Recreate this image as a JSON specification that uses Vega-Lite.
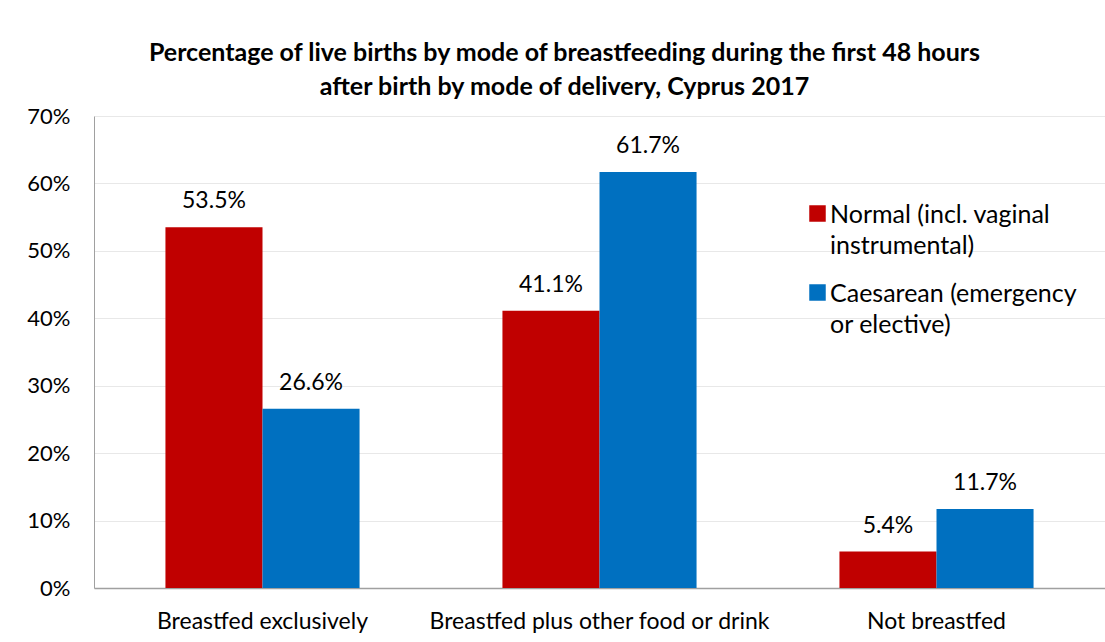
{
  "$schema": "https://vega.github.io/schema/vega-lite/v6.json",
  "width": 1011,
  "height": 472,
  "autosize": {"type": "none"},
  "padding": {"left": 94, "top": 116, "right": 0, "bottom": 54},
  "background": "white",
  "title": {
    "text": ["Percentage of live births by mode of breastfeeding during the first 48 hours", "after birth by mode of delivery, Cyprus 2017"],
    "font": "Lato",
    "fontSize": 25,
    "fontWeight": "bold",
    "color": "#000000",
    "anchor": "middle",
    "dx": -35,
    "offset": 5,
    "lineHeight": 34
  },
  "data": {
    "values": [
      {"category": "Breastfed exclusively", "mode": "Normal (incl. vaginal instrumental)", "value": 0.535},
      {"category": "Breastfed exclusively", "mode": "Caesarean (emergency or elective)", "value": 0.266},
      {"category": "Breastfed plus other food or drink", "mode": "Normal (incl. vaginal instrumental)", "value": 0.411},
      {"category": "Breastfed plus other food or drink", "mode": "Caesarean (emergency or elective)", "value": 0.617},
      {"category": "Not breastfed", "mode": "Normal (incl. vaginal instrumental)", "value": 0.054},
      {"category": "Not breastfed", "mode": "Caesarean (emergency or elective)", "value": 0.117}
    ]
  },
  "encoding": {
    "x": {
      "field": "category",
      "type": "nominal",
      "sort": ["Breastfed exclusively", "Breastfed plus other food or drink", "Not breastfed"],
      "scale": {"paddingInner": 0.424, "paddingOuter": 0.212},
      "axis": {
        "title": null,
        "labelAngle": 0,
        "labelFont": "Lato",
        "labelFontSize": 23,
        "labelColor": "#000000",
        "labelPadding": 22,
        "ticks": false,
        "domainColor": "#a0a0a0",
        "domainWidth": 1.5,
        "grid": false,
        "labelLimit": 400
      }
    },
    "xOffset": {
      "field": "mode",
      "type": "nominal",
      "sort": ["Normal (incl. vaginal instrumental)", "Caesarean (emergency or elective)"],
      "scale": {"paddingInner": 0, "paddingOuter": 0}
    },
    "y": {
      "field": "value",
      "type": "quantitative",
      "scale": {"domain": [0, 0.7]},
      "axis": {
        "title": null,
        "format": ".0%",
        "values": [0, 0.1, 0.2, 0.3, 0.4, 0.5, 0.6, 0.7],
        "labelFont": "Lato",
        "labelFontSize": 22,
        "labelColor": "#000000",
        "labelPadding": 24,
        "ticks": false,
        "domainColor": "#a0a0a0",
        "domainWidth": 1,
        "gridColor": "#e8e8e8",
        "gridWidth": 1
      }
    }
  },
  "layer": [
    {
      "mark": {"type": "bar"},
      "encoding": {
        "color": {
          "field": "mode",
          "type": "nominal",
          "sort": ["Normal (incl. vaginal instrumental)", "Caesarean (emergency or elective)"],
          "scale": {"domain": ["Normal (incl. vaginal instrumental)", "Caesarean (emergency or elective)"], "range": ["#C00000", "#0070C0"]},
          "legend": {
            "orient": "none",
            "legendX": 711,
            "legendY": 85,
            "title": null,
            "symbolType": "square",
            "symbolSize": 272,
            "symbolStrokeWidth": 0,
            "labelFont": "Lato",
            "labelFontSize": 25,
            "labelColor": "#000000",
            "labelLimit": 400,
            "labelOffset": 0,
            "rowPadding": 21,
            "labelExpr": "datum.label == 'Normal (incl. vaginal instrumental)' ? ['Normal (incl. vaginal', 'instrumental)'] : ['Caesarean (emergency', 'or elective)']",
            "labelBaseline": "alphabetic",
            "encode": {"labels": {"update": {"lineHeight": {"value": 31}, "dy": {"value": 9}}}}
          }
        }
      }
    },
    {
      "mark": {"type": "text", "baseline": "alphabetic", "dy": -19, "font": "Lato", "fontSize": 23, "color": "#000000"},
      "encoding": {
        "text": {"field": "value", "type": "quantitative", "format": ".1%"}
      }
    }
  ],
  "config": {"view": {"stroke": null}}
}
